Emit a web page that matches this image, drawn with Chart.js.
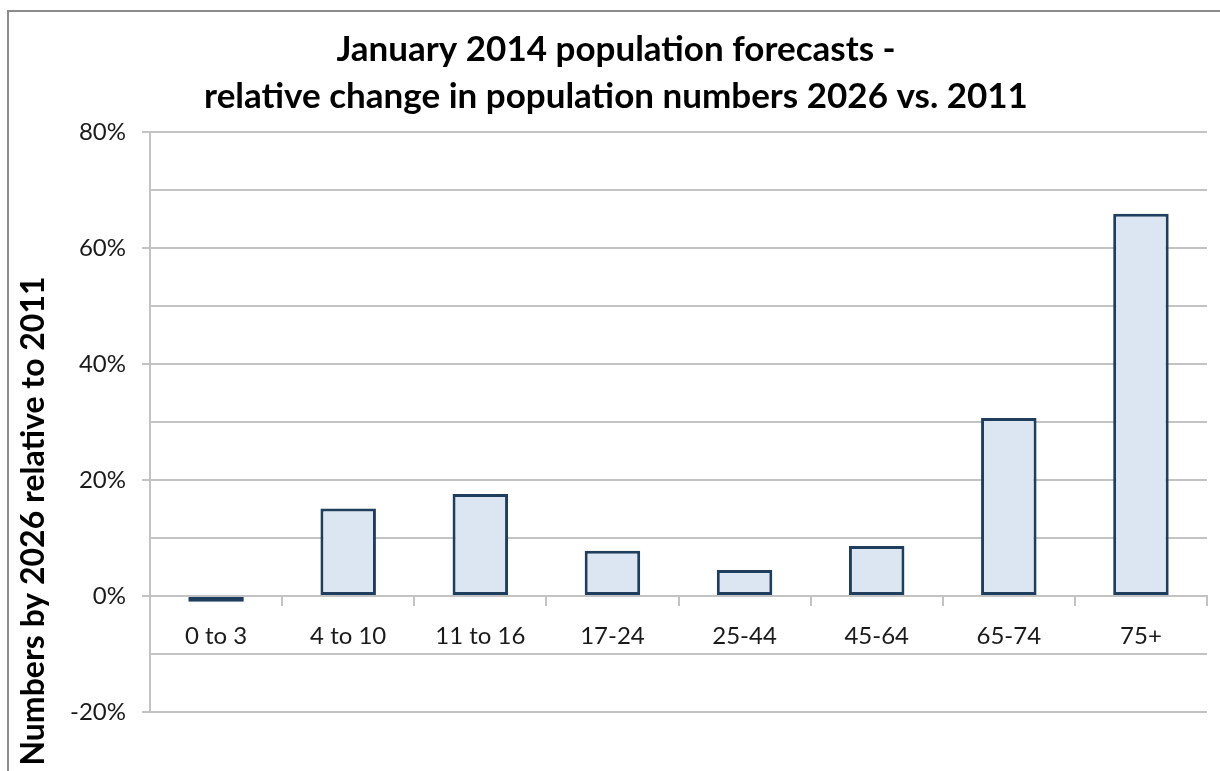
<!DOCTYPE html>
<html>
<head>
<meta charset="utf-8">
<script src="https://cdn.jsdelivr.net/npm/chart.js@4/dist/chart.umd.min.js"></script>
<style>
  html, body { margin: 0; padding: 0; background: #ffffff; }
  #wrap { position: relative; width: 1220px; height: 771px; }
  canvas { display: block; }
</style>
</head>
<body>
<div id="wrap"><canvas id="c" width="1220" height="771"></canvas></div>
<script>
// ---- data ----
const categories = ['0 to 3', '4 to 10', '11 to 16', '17-24', '25-44', '45-64', '65-74', '75+'];
const changePct = [-1.0, 15.1, 17.6, 7.8, 4.5, 8.6, 30.7, 65.9];
const titleLines = ['January 2014 population forecasts -', 'relative change in population numbers 2026 vs. 2011'];
const yAxisTitle = 'Numbers by 2026 relative to 2011';
const yMin = -20, yMax = 80, yStep = 10, yLabelEvery = 20;

const FONT = 'Lato, "Open Sans", sans-serif';
const gridColor = '#c3c3c3';

const decorPlugin = {
  id: 'decor',
  beforeDraw(chart) {
    const ctx = chart.ctx;
    ctx.save();
    ctx.fillStyle = '#ffffff';
    ctx.fillRect(0, 0, chart.width, chart.height);
    // outer frame (left + top)
    ctx.strokeStyle = '#8c8c8c';
    ctx.lineWidth = 2;
    ctx.beginPath();
    ctx.moveTo(8, chart.height);
    ctx.lineTo(8, 11);
    ctx.lineTo(chart.width, 11);
    ctx.stroke();
    ctx.restore();
  },
  afterDraw(chart) {
    const ctx = chart.ctx;
    ctx.save();
    ctx.fillStyle = '#000000';
    ctx.textAlign = 'center';
    ctx.textBaseline = 'alphabetic';
    ctx.font = 'bold 35px ' + FONT;
    ctx.fillText(titleLines[0], 616, 61);
    ctx.fillText(titleLines[1], 616, 108);
    // y axis title
    ctx.translate(44, 521);
    ctx.rotate(-Math.PI / 2);
    ctx.font = 'bold 32px ' + FONT;
    ctx.fillText(yAxisTitle, 0, 0);
    ctx.restore();
  }
};

new Chart(document.getElementById('c'), {
  type: 'bar',
  data: {
    labels: categories,
    datasets: [{
      data: changePct,
      backgroundColor: '#dce6f2',
      borderColor: '#1f3d5c',
      borderWidth: 3,
      borderSkipped: false,
      barPercentage: 0.42,
      categoryPercentage: 1.0
    }]
  },
  options: {
    responsive: false,
    animation: false,
    devicePixelRatio: 1,
    layout: { padding: { left: 0, top: 132, right: 13, bottom: 59 } },
    plugins: {
      legend: { display: false },
      title: { display: false },
      tooltip: { enabled: false }
    },
    scales: {
      x: {
        position: { y: 0 },
        offset: true,
        grid: {
          display: true,
          offset: true,
          drawOnChartArea: false,
          drawTicks: true,
          tickLength: 9,
          color: gridColor,
          tickColor: gridColor,
          lineWidth: 2
        },
        border: { display: true, color: gridColor, width: 2 },
        ticks: {
          color: '#1a1a1a',
          font: { family: FONT, size: 24 },
          padding: 17,
          maxRotation: 0,
          autoSkip: false
        },
        afterFit(s) { s.height = 0; s.paddingLeft = 0; s.paddingRight = 0; }
      },
      y: {
        min: yMin,
        max: yMax,
        grid: {
          color: gridColor,
          lineWidth: 2,
          tickLength: 8,
          tickColor: (c) => (c.tick && Math.round(c.tick.value) % yLabelEvery === 0) ? gridColor : 'rgba(0,0,0,0)'
        },
        border: { display: true, color: gridColor, width: 2 },
        ticks: {
          stepSize: yStep,
          color: '#1a1a1a',
          font: { family: FONT, size: 24 },
          padding: 16,
          callback: (v) => (Math.round(v) % yLabelEvery === 0) ? Math.round(v) + '%' : ''
        },
        afterFit(s) { s.width = 150; s.paddingTop = 0; s.paddingBottom = 0; }
      }
    }
  },
  plugins: [decorPlugin]
});
</script>
</body>
</html>
